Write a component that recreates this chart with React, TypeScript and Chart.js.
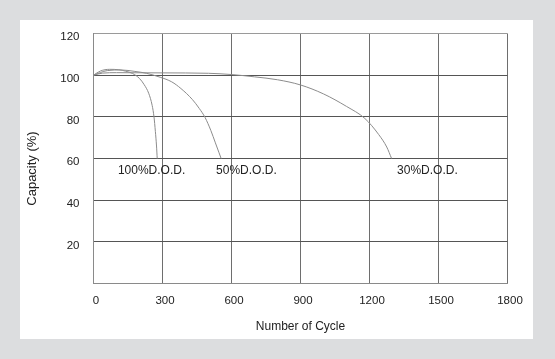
import React, { useEffect, useRef } from "react";
import { Chart, registerables } from "chart.js";

Chart.register(...registerables);

// ---- data ----
const xTickValues = [0, 300, 600, 900, 1200, 1500, 1800];
const yTickValues = [0, 20, 40, 60, 80, 100, 120];

const dod100Cycles = [0, 30, 70, 110, 140, 170, 200, 220, 240, 255, 263, 269, 274, 277];
const dod100Capacity = [100, 102, 102.8, 102.6, 101.9, 100.8, 98.4, 95.5, 91.3, 85.5, 80, 73, 66, 60];

const dod50Cycles = [0, 60, 120, 180, 230, 290, 340, 380, 430, 460, 485, 510, 530, 545, 555];
const dod50Capacity = [100, 102.2, 102.5, 101.8, 100.9, 99, 96.8, 93.6, 88.3, 84, 79.7, 73.5, 67.5, 63, 60];

const dod30Cycles = [0, 40, 100, 300, 500, 600, 700, 800, 900, 1000, 1100, 1180, 1240, 1275, 1296];
const dod30Capacity = [100, 101, 101.2, 101.1, 100.9, 100.3, 99.2, 97.8, 95.3, 91, 85, 79.2, 71.5, 65.5, 60];

const seriesNames = ["100%D.O.D.", "50%D.O.D.", "30%D.O.D."];
const seriesLabelCycle = [106, 533, 1320];
const seriesLabelCapacity = [54, 54, 54];

const xTitle = "Number of Cycle";
const yTitle = "Capacity (%)";

const FONT = "'Liberation Sans', Arial, Helvetica, sans-serif";

function toPoints(xs: number[], ys: number[]) {
  return xs.map((x, i) => ({ x, y: ys[i] }));
}

const annotationPlugin = {
  id: "dodLabels",
  afterDatasetsDraw(chart: any) {
    const { ctx, scales, chartArea } = chart;
    ctx.save();
    ctx.fillStyle = "#222";
    ctx.font = `12px ${FONT}`;
    ctx.textAlign = "left";
    ctx.textBaseline = "middle";
    seriesNames.forEach((name, i) => {
      const px = scales.x.getPixelForValue(seriesLabelCycle[i]);
      const py = scales.y.getPixelForValue(seriesLabelCapacity[i]);
      ctx.fillText(name, px, py);
    });
    // y axis title
    ctx.translate(12, (chartArea.top + chartArea.bottom) / 2 + 10);
    ctx.rotate(-Math.PI / 2);
    ctx.textAlign = "center";
    ctx.font = `13px ${FONT}`;
    ctx.fillText(yTitle, 0, 0);
    ctx.restore();
  },
};

export default function App() {
  const canvasRef = useRef<HTMLCanvasElement | null>(null);

  useEffect(() => {
    if (!canvasRef.current) return;
    const lineStyle = {
      borderColor: "#8c8c8c",
      borderWidth: 1,
      pointRadius: 0,
      fill: false,
      cubicInterpolationMode: "monotone" as const,
    };
    const chart = new Chart(canvasRef.current, {
      type: "line",
      data: {
        datasets: [
          { label: seriesNames[0], data: toPoints(dod100Cycles, dod100Capacity), ...lineStyle },
          { label: seriesNames[1], data: toPoints(dod50Cycles, dod50Capacity), ...lineStyle },
          { label: seriesNames[2], data: toPoints(dod30Cycles, dod30Capacity), ...lineStyle },
        ],
      },
      options: {
        animation: false,
        responsive: false,
        maintainAspectRatio: false,
        layout: { padding: { left: 0, right: 25.5, top: 13.5, bottom: 0 } },
        plugins: {
          legend: { display: false },
          tooltip: { enabled: false },
        },
        scales: {
          x: {
            type: "linear",
            min: 0,
            max: 1800,
            afterBuildTicks: (s: any) => {
              s.ticks = xTickValues.map((v) => ({ value: v }));
            },
            afterFit: (s: any) => {
              s.height = 55.5;
              s.paddingLeft = 0;
              s.paddingRight = 0;
            },
            ticks: {
              color: "#222",
              font: { family: FONT, size: 11.5 },
              padding: 10.5,
              labelOffset: 2.5,
              maxRotation: 0,
              callback: (v: any) => String(v),
            },
            grid: { color: "#6e6e6e", lineWidth: 1, drawTicks: false },
            border: { color: "#8a8a8a" },
            title: {
              display: true,
              text: xTitle,
              color: "#222",
              font: { family: FONT, size: 12 },
              padding: { top: 0, bottom: 4.8 },
            },
          },
          y: {
            type: "linear",
            min: 0,
            max: 120,
            afterBuildTicks: (s: any) => {
              s.ticks = yTickValues.map((v) => ({ value: v }));
            },
            afterFit: (s: any) => {
              s.width = 73.5;
              s.paddingTop = 0;
              s.paddingBottom = 0;
            },
            ticks: {
              color: "#222",
              font: { family: FONT, size: 11.5 },
              padding: 14,
              labelOffset: 3.5,
              callback: (v: any) => (v === 0 ? "" : String(v)),
            },
            grid: {
              color: (c: any) => (c.tick && c.tick.value === 120 ? "#9a9a9a" : "#555"),
              lineWidth: 1,
              drawTicks: false,
            },
            border: { color: "#8a8a8a" },
          },
        },
      },
      plugins: [annotationPlugin],
    });
    return () => chart.destroy();
  }, []);

  return (
    <div style={{ position: "fixed", left: 0, top: 0, width: 555, height: 359, background: "#dcdddf" }}>
      <div style={{ position: "absolute", left: 20, top: 20, width: 513, height: 319, background: "#ffffff" }}>
        <canvas ref={canvasRef} width={513} height={319} style={{ display: "block" }} />
      </div>
    </div>
  );
}
